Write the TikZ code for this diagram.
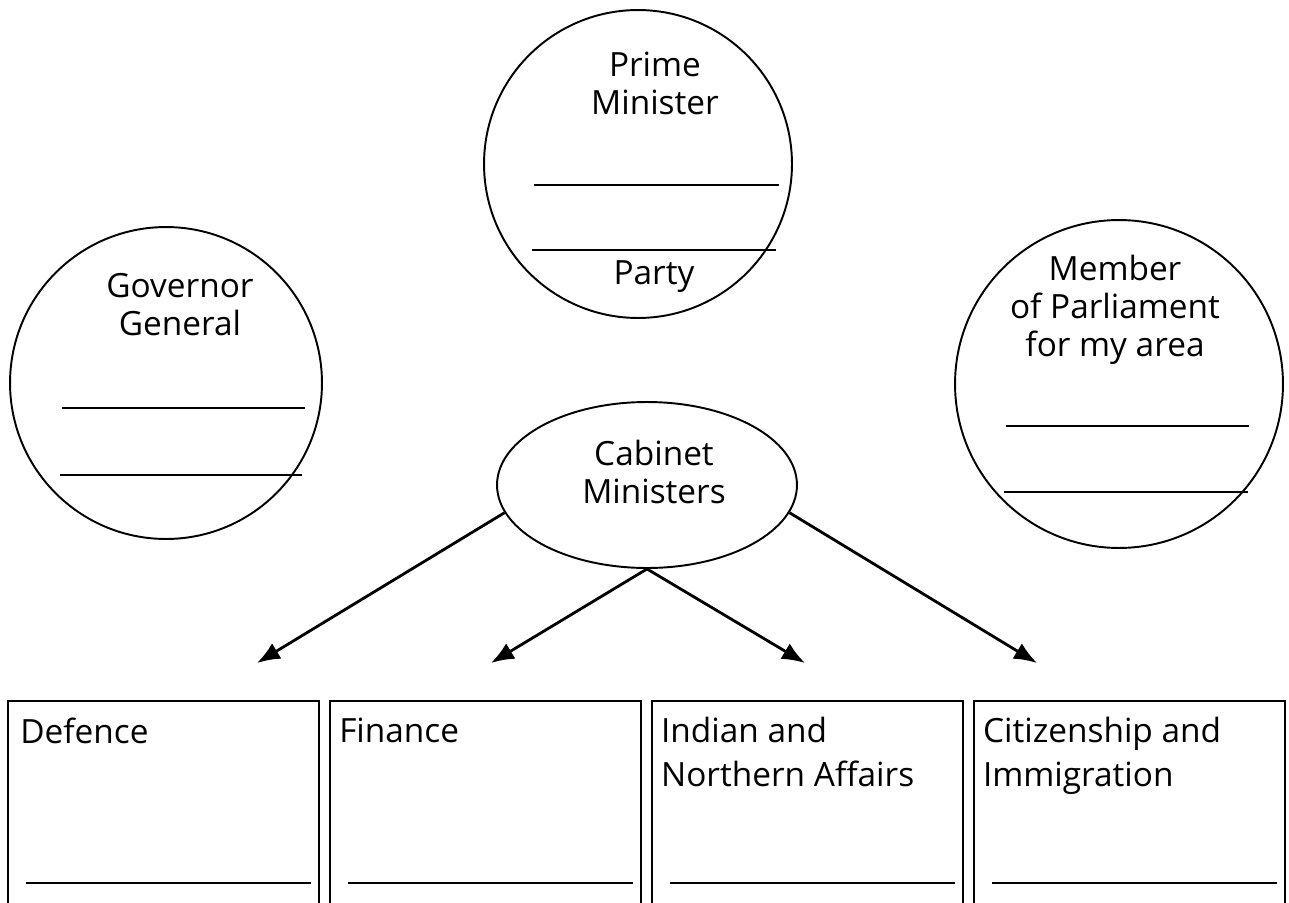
\documentclass[tikz,border=0pt]{standalone}
\usepackage{fontspec}
\setmainfont{Open Sans}
\usepackage{tikz}
\usetikzlibrary{arrows.meta,positioning,calc,shapes.geometric}

\begin{document}
\begin{tikzpicture}[x=0.02cm, y=-0.02cm, node distance=0.17cm, >={Latex[length=0.46cm,width=0.36cm]}, every node/.style={font=\fontsize{19}{21.5}\selectfont}]
\tikzstyle{office}=[draw, circle, line width=1.1pt, inner sep=0pt]
\tikzstyle{title}=[anchor=north, align=center, inner sep=0pt]
\tikzstyle{dept}=[draw, line width=1.4pt, minimum width=6.22cm, minimum height=4.4cm, inner sep=0pt, anchor=north west]
\tikzstyle{deptname}=[anchor=north west, align=left, inner sep=0pt, font=\fontsize{19}{25}\selectfont]
\tikzstyle{blank}=[line width=1pt]
\tikzstyle{arrow}=[->, line width=1.6pt]
\useasboundingbox (0,0) rectangle (1289,903);
\clip (0,0) rectangle (1289,903);
\node[office, minimum size=6.16cm] (pm) at (638,164) {};
\node[office, minimum size=6.24cm] (gg) at (166,383) {};
\node[office, minimum size=6.56cm] (mp) at (1119,384) {};
\node[draw, ellipse, line width=1.1pt, minimum width=6cm, minimum height=3.32cm, inner sep=0pt] (cab) at (647,485) {};
\node[title] (pmname) at (655,52) {Prime\\Minister};
\node[title] (party) at (654,260) {Party};
\node[title] (ggname) at (180,273) {Governor\\General};
\node[title] (mpname) at (1115,255) {Member\\of Parliament\\for my area};
\node[title] (cabname) at (654,440) {Cabinet\\Ministers};
\draw[blank] (534,185) -- (779,185);
\draw[blank] (532,250) -- (776,250);
\draw[blank] (62,408) -- (305,408);
\draw[blank] (60,475) -- (302,475);
\draw[blank] (1006,426) -- (1249,426);
\draw[blank] (1004,492) -- (1248,492);
\node[dept] (def) at (7,700) {};
\node[dept, right=of def] (fin) {};
\node[dept, right=of fin] (ind) {};
\node[dept, right=of ind] (cit) {};
\node[deptname] (defname) at ($(def.north west)+(13,18)$) {Defence};
\node[deptname] (finname) at ($(fin.north west)+(10,18)$) {Finance};
\node[deptname] (indname) at ($(ind.north west)+(10,17)$) {Indian and\\Northern Affairs};
\node[deptname] (citname) at ($(cit.north west)+(10,17)$) {Citizenship and\\Immigration};
\foreach \b in {def,fin,ind,cit}
  \draw[blank] ($(\b.north west)+(19,183)$) -- ($(\b.north east)+(-9,183)$);
\coordinate (t1) at (257,663);
\coordinate (t2) at (491,663);
\coordinate (t3) at (805,663);
\coordinate (t4) at (1037,663);
\draw[arrow] (cab.191) -- (t1);
\draw[arrow] (cab.south) -- (t2);
\draw[arrow] (cab.south) -- (t3);
\draw[arrow] (cab.-11) -- (t4);
\end{tikzpicture}
\end{document}
